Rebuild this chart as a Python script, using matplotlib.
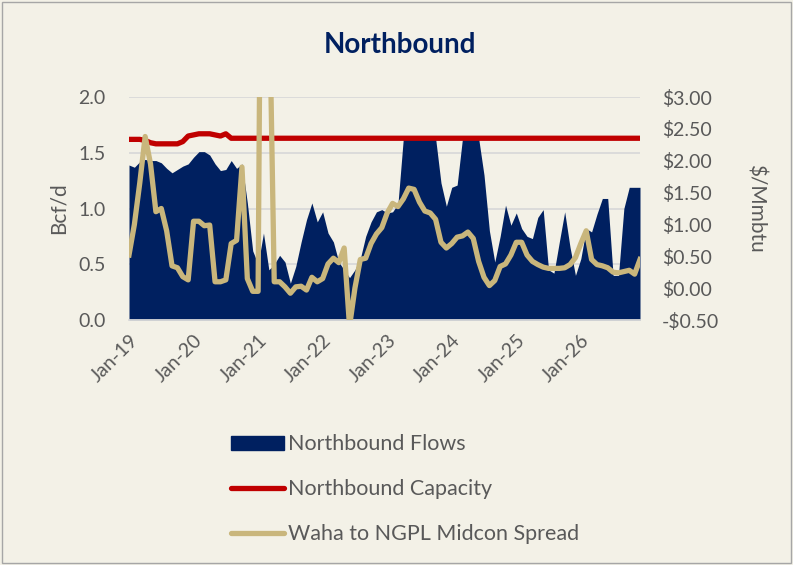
import matplotlib
matplotlib.use('Agg')
import matplotlib.pyplot as plt
import matplotlib.transforms as mtransforms
from matplotlib.patches import Rectangle, Patch
from matplotlib.lines import Line2D
import pandas as pd

# monthly categories Jan-19 .. Dec-26
months = pd.date_range('2019-01-01', periods=96, freq='MS')

# Bcf/d
flows = [1.39, 1.37, 1.42, 1.44, 1.43, 1.43, 1.41, 1.36, 1.32, 1.35, 1.38, 1.40,
         1.46, 1.51, 1.51, 1.48, 1.40, 1.34, 1.35, 1.43, 1.36, 1.40, 1.05, 0.62,
         0.50, 0.78, 0.45, 0.50, 0.58, 0.52, 0.33, 0.48, 0.70, 0.90, 1.05, 0.88,
         0.97, 0.78, 0.70, 0.52, 0.45, 0.38, 0.45, 0.55, 0.75, 0.88, 0.97, 0.99,
         0.96, 0.97, 1.04, 1.63, 1.63, 1.63, 1.63, 1.63, 1.63, 1.63, 1.23, 1.02,
         1.19, 1.21, 1.63, 1.63, 1.63, 1.63, 1.30, 0.80, 0.52, 0.75, 1.03, 0.85,
         0.96, 0.82, 0.75, 0.73, 0.92, 0.99, 0.45, 0.42, 0.70, 0.97, 0.65, 0.40,
         0.55, 0.82, 0.79, 0.95, 1.09, 1.09, 0.40, 0.40, 1.00, 1.19, 1.19, 1.19]

capacity = [1.62, 1.62, 1.62, 1.61, 1.59, 1.58, 1.58, 1.58, 1.58, 1.58, 1.60, 1.65,
            1.66, 1.67, 1.67, 1.67, 1.66, 1.65, 1.67] + [1.63] * 77

# $/Mmbtu
spread = [0.52, 1.00, 1.65, 2.38, 1.95, 1.20, 1.25, 0.90, 0.35, 0.32, 0.18, 0.13,
          1.05, 1.05, 0.98, 0.99, 0.10, 0.10, 0.13, 0.70, 0.75, 1.90, 0.15, -0.05,
          -0.05, 12.0, 5.0, 0.10, 0.10, 0.02, -0.08, 0.02, 0.03, -0.03, 0.17, 0.10,
          0.15, 0.38, 0.47, 0.40, 0.63, -0.60, 0.00, 0.45, 0.47, 0.70, 0.85, 0.95,
          1.18, 1.33, 1.28, 1.40, 1.57, 1.55, 1.35, 1.21, 1.18, 1.08, 0.72, 0.63,
          0.70, 0.80, 0.82, 0.88, 0.78, 0.42, 0.17, 0.04, 0.12, 0.34, 0.38, 0.52,
          0.72, 0.72, 0.52, 0.42, 0.37, 0.33, 0.31, 0.31, 0.31, 0.32, 0.37, 0.48,
          0.70, 0.90, 0.45, 0.37, 0.35, 0.32, 0.25, 0.24, 0.26, 0.28, 0.22, 0.45]

NAVY = '#002060'
RED = '#C00000'
TAN = '#C9B67C'
BG = '#F3F1E7'
GREY = '#595959'

plt.rcParams['font.family'] = ['Lato', 'DejaVu Sans']

fig = plt.figure(figsize=(7.93, 5.65), dpi=100, facecolor=BG)
ax = fig.add_axes([129 / 793, 1 - 320 / 565, 511 / 793, 223 / 565])
ax.set_facecolor(BG)

x = list(range(len(months)))
ax.fill_between(x, flows, 0, color=NAVY, lw=0, zorder=2)
ax.plot(x, capacity, color=RED, lw=3.8, solid_capstyle='round', zorder=3)

ax.set_xlim(0, len(months) - 1)
ax.set_ylim(0, 2.0)
ax.set_yticks([0, 0.5, 1.0, 1.5, 2.0])
ax.set_yticklabels(['0.0', '0.5', '1.0', '1.5', '2.0'])
ax.grid(axis='y', color='#D9D9D9', lw=1.3, zorder=0)
ax.set_axisbelow(True)
for s in ['top', 'right', 'left']:
    ax.spines[s].set_visible(False)
ax.spines['bottom'].set_color('#D9D9D9')
ax.spines['bottom'].set_linewidth(1.3)

tick_pos = [i for i in x if months[i].month == 1]
ax.set_xticks(tick_pos)
ax.set_xticklabels([months[i].strftime('%b-%y') for i in tick_pos],
                   rotation=45, ha='right', va='top', rotation_mode='anchor')
offset = mtransforms.ScaledTranslation(6 / 72, 0, fig.dpi_scale_trans)
for lbl in ax.get_xticklabels():
    lbl.set_transform(lbl.get_transform() + offset)
ax.tick_params(axis='both', length=0, labelsize=14, colors=GREY)
ax.tick_params(axis='y', pad=17)
ax.tick_params(axis='x', pad=8)
ax.set_ylabel('Bcf/d', fontsize=15, color=GREY, labelpad=7)

ax2 = ax.twinx()
ax2.plot(x, spread, color=TAN, lw=3.8, zorder=4)
ax2.set_ylim(-0.5, 3.0)
ax2.set_yticks([-0.5, 0, 0.5, 1.0, 1.5, 2.0, 2.5, 3.0])
ax2.set_yticklabels(['-$0.50' if v < 0 else f'${v:.2f}'
                     for v in [-0.5, 0, 0.5, 1.0, 1.5, 2.0, 2.5, 3.0]])
for s in ax2.spines.values():
    s.set_visible(False)
ax2.tick_params(axis='y', length=0, labelsize=14, colors=GREY, pad=16)
ax2.set_ylabel('$/Mmbtu', fontsize=15, color=GREY, rotation=270, labelpad=33)

fig.text(0.505, 1 - 45 / 565, 'Northbound', ha='center', va='center',
         fontsize=20, fontweight='bold', color=NAVY)

handles = [Patch(facecolor=NAVY, edgecolor=NAVY),
           Line2D([], [], color=RED, lw=3.8, solid_capstyle='round'),
           Line2D([], [], color=TAN, lw=3.8, solid_capstyle='round')]
labels = ['Northbound Flows', 'Northbound Capacity', 'Waha to NGPL Midcon Spread']
leg = fig.legend(handles, labels, loc='upper center',
                 bbox_to_anchor=(0.511, 1 - 415 / 565), frameon=False,
                 fontsize=15.5, labelcolor=GREY, handlelength=2.45,
                 handleheight=0.6, handletextpad=0.2, labelspacing=1.15)

fig.patches.append(Rectangle((0.003, 0.004), 0.994, 0.992, transform=fig.transFigure,
                             fill=False, ec='#A6A6A6', lw=1))

fig.savefig('out.png', dpi=100, facecolor=BG)
